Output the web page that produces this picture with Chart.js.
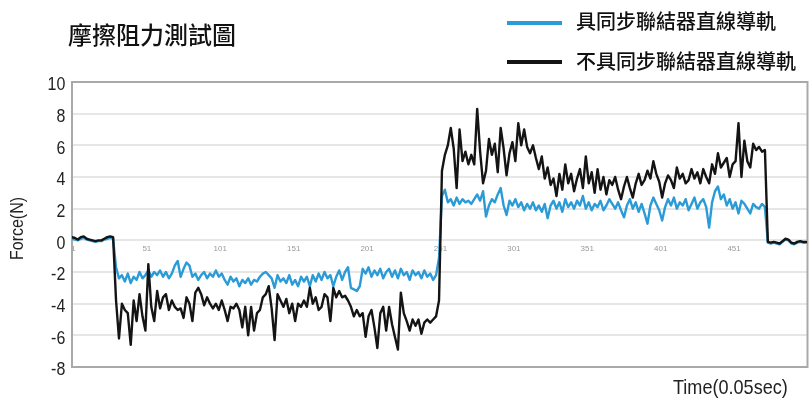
<!DOCTYPE html>
<html>
<head>
<meta charset="utf-8">
<script src="https://cdn.jsdelivr.net/npm/chart.js@4.4.1/dist/chart.umd.min.js"></script>
<style>
  html, body { margin: 0; padding: 0; background: #fff; }
  #wrap { position: relative; width: 811px; height: 398px; overflow: hidden; }
  #chart { position: absolute; left: 0; top: 0; }
  .cjk { position: absolute; white-space: nowrap; font-family: "Noto Sans CJK TC", "Noto Sans CJK SC", sans-serif; color: #111; font-weight: 500; }
  .narrow { position: absolute; white-space: nowrap; font-family: "Liberation Sans", Arial, sans-serif; color: #222; transform: scaleX(0.86); transform-origin: 0 0; }
  .swatch { position: absolute; height: 4px; width: 55px; }
</style>
</head>
<body>
<div id="wrap">
  <canvas id="chart" width="811" height="398"></canvas>
  <div class="cjk" id="title" style="left:68px; top:22px; font-size:24px; line-height:24px;"></div>
  <div class="swatch" id="sw0" style="left:507px; top:21px;"></div>
  <div class="cjk" id="lg0" style="left:576px; top:11px; font-size:20px; line-height:20px;"></div>
  <div class="swatch" id="sw1" style="left:507px; top:60px;"></div>
  <div class="cjk" id="lg1" style="left:576px; top:51px; font-size:20px; line-height:20px;"></div>
  <div class="narrow" id="xtitle" style="left:673px; top:375px; font-size:21px; line-height:24px;"></div>
</div>
<script>
// Chart text
const chartTitle = '摩擦阻力測試圖';
const seriesNames = ['具同步聯結器直線導軌', '不具同步聯結器直線導軌'];
const seriesColors = ['#2a9bd7', '#141414'];
const xAxisTitle = 'Time(0.05sec)';
const yAxisTitle = 'Force(N)';

// Axis ticks
const xTickValues = [1, 51, 101, 151, 201, 251, 301, 351, 401, 451];
const yMin = -8, yMax = 10, yStep = 2;

// Sample times (every second sample of the 0.05 s record)
const sampleTimes = Array.from({ length: 251 }, (_, i) => i * 2);

// Force with the synchronised linkage (N)
const forceSync = [
  0.1, 0.05, 0.0, 0.1, 0.15, 0.05, 0.0, -0.05, -0.1, -0.05, -0.05, 0.05, 0.1, 0.15, 0.1,
  -1.7, -2.4, -2.2, -2.6, -2.1, -2.7, -2.3, -2.5, -2.0, -2.4, -2.2,
  -1.9, -2.3, -2.0, -2.2, -1.9, -2.3, -2.0, -2.4, -2.1, -1.6,
  -1.3, -2.3, -1.8, -1.4, -1.6, -2.3, -2.1, -2.5, -2.2, -2.0,
  -2.4, -2.1, -2.3, -1.9, -2.3, -2.1, -2.5, -2.8, -2.3, -2.6,
  -2.4, -2.9, -2.5, -2.7, -2.4, -2.8, -2.5, -2.6, -2.3, -2.1,
  -2.0, -2.2, -2.4, -3.0, -2.2, -2.6, -2.4, -2.7, -2.2, -2.8,
  -2.5, -2.9, -2.3, -2.6, -2.3, -2.9, -2.2, -2.6, -2.1, -2.5,
  -2.0, -2.4, -2.2, -2.9, -2.3, -1.9, -2.5, -2.0, -1.7, -3.0,
  -3.1, -3.2, -2.9, -1.8, -2.1, -1.7, -2.3, -1.9, -2.2, -1.8,
  -2.4, -2.0, -1.8, -2.3, -1.9, -2.4, -1.8, -2.2, -2.0, -2.5,
  -1.9, -2.2, -2.0, -2.4, -1.9, -2.3, -2.1, -2.5, -2.2, -1.1,
  2.8, 3.2, 2.4, 2.6, 2.2, 2.7, 2.3, 2.6, 2.4, 2.5,
  2.3, 2.6, 2.9, 2.5, 3.1, 1.5, 2.2, 2.6, 2.4, 2.9,
  3.3, 2.2, 1.6, 2.5, 2.2, 2.6, 2.1, 2.4, 1.9, 2.3,
  2.0, 2.4, 1.9, 2.2, 1.8, 2.3, 1.4, 2.2, 2.5, 2.0,
  2.4, 1.8, 2.6, 2.1, 2.4, 2.0, 2.5, 2.2, 2.8, 2.0,
  2.4, 1.9, 2.3, 2.1, 2.5, 1.9, 2.2, 2.6, 2.3, 2.0,
  2.4, 1.9, 1.45, 2.2, 2.6, 2.0, 2.4, 1.8, 2.3, 1.7,
  1.05, 2.2, 2.7, 2.3, 1.9, 1.25, 2.1, 2.6, 2.2, 2.7,
  2.0, 2.4, 2.2, 2.6, 1.9, 2.3, 2.7, 2.0, 2.4, 2.6,
  2.1, 0.8, 2.4, 3.1, 3.4, 2.6, 2.9, 2.2, 2.6, 2.0,
  2.4, 1.7, 2.5, 2.3, 2.0, 1.7, 2.3, 2.1, 2.0, 2.3, 2.1,
  -0.15, -0.2, -0.15, -0.2, -0.25, -0.1, 0.05, 0.0, -0.2, -0.25, -0.15, -0.1, -0.15, -0.15
];

// Force without the synchronised linkage (N)
const forcePlain = [
  0.2, 0.15, 0.05, 0.2, 0.25, 0.1, 0.05, 0.0, -0.05, 0.0, 0.0, 0.1, 0.2, 0.25, 0.2,
  -3.8, -6.2, -4.0, -4.4, -4.6, -6.6, -3.8, -5.1, -3.4, -4.8, -5.7,
  -1.5, -4.2, -5.1, -3.2, -4.3, -3.6, -3.4, -4.4, -3.8, -4.2,
  -4.4, -4.3, -4.9, -3.6, -4.0, -5.1, -3.3, -3.0, -3.4, -4.1,
  -3.6, -4.0, -4.3, -4.0, -4.4, -3.8, -4.4, -5.1, -4.2, -4.3,
  -4.0, -4.4, -5.5, -4.2, -6.0, -4.2, -5.7, -4.6, -4.4, -3.6,
  -3.4, -2.9, -4.3, -6.3, -3.4, -3.8, -4.2, -3.7, -4.6, -4.0,
  -5.1, -4.0, -4.2, -3.8, -4.2, -3.0, -4.0, -3.6, -4.4, -4.2,
  -3.4, -3.6, -5.1, -3.0, -3.6, -3.2, -3.6, -3.5, -3.8, -4.2,
  -4.8, -4.4, -4.8, -4.6, -6.1, -4.8, -4.4, -5.5, -6.8, -4.6,
  -4.2, -5.7, -4.2, -5.3, -6.1, -6.9, -3.3, -4.6, -5.1, -5.7,
  -5.0, -5.4, -5.0, -5.9, -5.2, -5.0, -5.2, -5.0, -4.8, -3.8,
  4.4, 5.4, 6.0, 7.1, 5.8, 3.3, 7.0, 5.0, 5.6, 4.8,
  5.4, 4.8, 8.3, 5.6, 3.6, 4.4, 6.4, 5.4, 6.1, 4.3,
  7.1, 5.8, 4.1, 5.5, 6.2, 5.0, 7.4, 6.0, 7.0, 5.9,
  5.5, 6.0, 5.2, 4.5, 5.3, 3.9, 4.6, 3.5, 3.9, 2.8,
  4.2, 3.2, 4.8, 3.6, 4.2, 3.1, 3.9, 4.5, 3.3, 5.3,
  3.6, 4.3, 3.0, 4.5, 3.2, 4.0, 2.9, 3.8, 3.5, 4.0,
  3.2, 2.6, 3.4, 4.0, 3.3, 2.7, 3.6, 4.2, 3.5, 3.8,
  4.4, 3.9, 5.0, 4.2, 3.7, 2.7, 3.6, 4.1, 3.8, 3.3,
  4.6, 3.9, 4.2, 3.6, 3.8, 4.5, 3.9, 4.3, 3.6, 4.5,
  4.0, 3.6, 4.8, 4.2, 5.5, 4.6, 4.9, 5.2, 4.0, 4.8,
  5.0, 7.4, 4.0, 6.3, 5.0, 4.6, 6.1, 5.7, 5.9, 5.6, 5.7,
  -0.1, -0.15, -0.1, -0.15, -0.2, -0.05, 0.1, 0.05, -0.15, -0.2, -0.1, -0.05, -0.1, -0.1
];

document.getElementById('title').textContent = chartTitle;
document.getElementById('lg0').textContent = seriesNames[0];
document.getElementById('lg1').textContent = seriesNames[1];
document.getElementById('sw0').style.background = seriesColors[0];
document.getElementById('sw1').style.background = seriesColors[1];
document.getElementById('xtitle').textContent = xAxisTitle;

const toPoints = vals => vals.map((v, i) => ({ x: sampleTimes[i], y: v }));

// Grey frame round the plotting area
const plotFrame = {
  id: 'plotFrame',
  beforeDatasetsDraw(chart) {
    const { ctx, chartArea: a } = chart;
    ctx.save();
    ctx.strokeStyle = '#a9a9a9';
    ctx.lineWidth = 2;
    ctx.strokeRect(a.left, a.top, a.right - a.left, a.bottom - a.top);
    ctx.restore();
  }
};

// Narrow lettering on the value axis: squeeze the tick labels horizontally
// about their right edge and the rotated title along its length.
const narrowAxis = {
  id: 'narrowAxis',
  afterLayout(chart) {
    const s = chart.scales.y;
    if (s._narrowed) return;
    s._narrowed = true;
    const drawLabels = s.drawLabels.bind(s);
    const drawTitle = s.drawTitle.bind(s);
    s.drawLabels = function (area) {
      const ctx = this.ctx, xr = this.right;
      ctx.save();
      ctx.translate(xr, 0); ctx.scale(0.84, 1); ctx.translate(-xr, 0);
      drawLabels(area);
      ctx.restore();
    };
    s.drawTitle = function () {
      const ctx = this.ctx, cy = (this.top + this.bottom) / 2;
      ctx.save();
      ctx.translate(0, cy + 4); ctx.scale(1, 0.84); ctx.translate(0, -cy);
      drawTitle();
      ctx.restore();
    };
  }
};

new Chart(document.getElementById('chart'), {
  type: 'line',
  data: {
    datasets: [
      { label: seriesNames[0], data: toPoints(forceSync), borderColor: seriesColors[0], borderWidth: 2.4, order: 1 },
      { label: seriesNames[1], data: toPoints(forcePlain), borderColor: seriesColors[1], borderWidth: 2.4, order: 0 }
    ]
  },
  options: {
    responsive: false,
    animation: false,
    events: [],
    layout: { padding: { left: 0, top: 82, right: 3.5, bottom: 31 } },
    elements: {
      point: { radius: 0 },
      line: { tension: 0, borderJoinStyle: 'round', borderCapStyle: 'round' }
    },
    plugins: { legend: { display: false }, title: { display: false }, tooltip: { enabled: false } },
    scales: {
      x: {
        type: 'linear',
        position: { y: 0 },
        min: 0,
        max: 501,
        afterFit(s) { s.height = 0; },
        afterBuildTicks(s) { s.ticks = xTickValues.map(v => ({ value: v })); },
        grid: { display: false, drawTicks: false },
        border: { display: false },
        ticks: {
          padding: 4,
          maxRotation: 0,
          autoSkip: false,
          color: '#9a9a9a',
          font: { family: 'Liberation Sans', size: 8 }
        }
      },
      y: {
        min: yMin,
        max: yMax,
        afterFit(s) { s.width = 72; },
        grid: { color: '#e6e6e6', lineWidth: 2, drawTicks: false },
        border: { display: false },
        ticks: {
          stepSize: yStep,
          padding: 8,
          labelOffset: 3,
          color: '#222',
          font: { family: 'Liberation Sans', size: 19 }
        },
        title: {
          display: true,
          text: yAxisTitle,
          color: '#222',
          padding: { top: 6, bottom: 0 },
          font: { family: 'Liberation Sans', size: 19 }
        }
      }
    }
  },
  plugins: [plotFrame, narrowAxis]
});
</script>
</body>
</html>
